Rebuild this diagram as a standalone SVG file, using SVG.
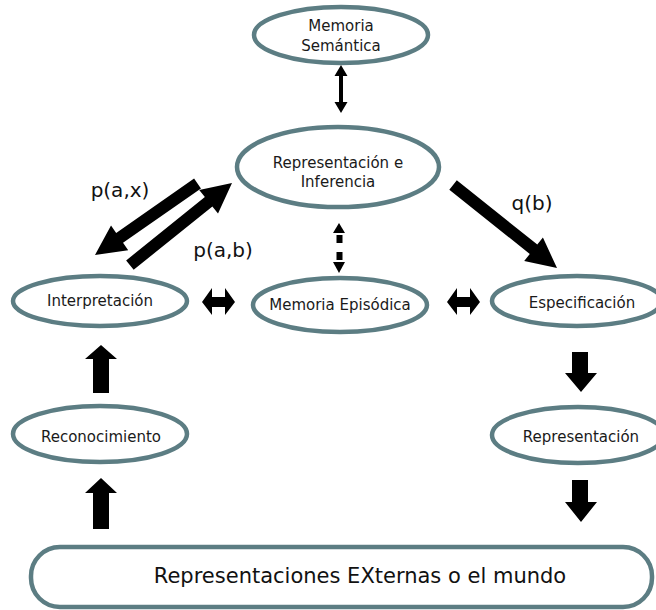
<svg xmlns="http://www.w3.org/2000/svg" width="656" height="610" viewBox="0 0 656 610">
  <defs>
    <filter id="soft" x="-5%" y="-10%" width="110%" height="120%">
      <feGaussianBlur stdDeviation="0.6"/>
    </filter>
    <style>
      .shape { fill: #ffffff; stroke: #5c7d83; stroke-width: 4.5; filter: url(#soft); }
      .label { font-family: "DejaVu Sans", Verdana, sans-serif; font-size: 15px; fill: #1a1a1a; text-anchor: middle; }
      .edge-label { font-family: "DejaVu Sans", Verdana, sans-serif; font-size: 20px; fill: #111111; text-anchor: middle; }
      .big { font-family: "DejaVu Sans", Verdana, sans-serif; font-size: 21px; fill: #111111; text-anchor: middle; }
      .arrow { fill: #000000; stroke: none; }
    </style>
  </defs>
  <rect width="656" height="610" fill="#ffffff"/>

  <g id="memoria-semantica">
    <ellipse class="shape" cx="341" cy="35" rx="87" ry="28"/>
    <text class="label" x="341" y="31">Memoria</text>
    <text class="label" x="341" y="51">Semántica</text>
  </g>

  <g id="representacion-inferencia">
    <ellipse class="shape" cx="338" cy="167" rx="101" ry="40"/>
    <text class="label" x="338" y="168">Representación e</text>
    <text class="label" x="338" y="187">Inferencia</text>
  </g>

  <g id="interpretacion">
    <ellipse class="shape" cx="100" cy="301" rx="87" ry="25"/>
    <text class="label" x="100" y="306">Interpretación</text>
  </g>

  <g id="memoria-episodica">
    <ellipse class="shape" cx="340" cy="305" rx="87" ry="27"/>
    <text class="label" x="340" y="310">Memoria Episódica</text>
  </g>

  <g id="especificacion">
    <ellipse class="shape" cx="577" cy="301" rx="85" ry="25"/>
    <text class="label" x="582" y="308">Especificación</text>
  </g>

  <g id="reconocimiento">
    <ellipse class="shape" cx="100" cy="434" rx="87" ry="28"/>
    <text class="label" x="101" y="442">Reconocimiento</text>
  </g>

  <g id="representacion">
    <ellipse class="shape" cx="578" cy="435" rx="86" ry="28"/>
    <text class="label" x="581" y="442">Representación</text>
  </g>

  <g id="mundo">
    <rect class="shape" x="31" y="547" width="621" height="60" rx="29" ry="29"/>
    <text class="big" x="360" y="583">Representaciones EXternas o el mundo</text>
  </g>

  <g id="connectors">
    <!-- Memoria Semántica <-> Representación e Inferencia -->
    <polygon class="arrow" points="341,65 347.5,76 343,76 343,102 347.5,102 341,113 334.5,102 339,102 339,76 334.5,76"/>

    <!-- Representación e Inferencia <-> Memoria Episódica (dashed) -->
    <polygon class="arrow" points="339,223 345,233 333,233"/>
    <rect class="arrow" x="336.5" y="235" width="6" height="8"/>
    <rect class="arrow" x="336.5" y="252" width="6" height="8"/>
    <polygon class="arrow" points="333,262 345,262 339,273"/>

    <!-- p(a,x): Representación e Inferencia -> Interpretación -->
    <g transform="translate(95,255) rotate(-34.9)">
      <polygon class="arrow" points="0,0 30,-15 30,-6 125,-6 125,6 30,6 30,15"/>
    </g>
    <!-- p(a,b): Interpretación -> Representación e Inferencia -->
    <g transform="translate(232,183) rotate(141.2)">
      <polygon class="arrow" points="0,0 30,-15 30,-6 131,-6 131,6 30,6 30,15"/>
    </g>
    <!-- q(b): Representación e Inferencia -> Especificación -->
    <g transform="translate(557,268) rotate(-141.4)">
      <polygon class="arrow" points="0,0 30,-15 30,-6 133,-6 133,6 30,6 30,15"/>
    </g>

    <!-- Interpretación <-> Memoria Episódica -->
    <polygon class="arrow" points="202,302 212,288 212,297 225,297 225,288 235,302 225,315 225,307 212,307 212,315"/>
    <!-- Memoria Episódica <-> Especificación -->
    <polygon class="arrow" points="447,302 457,288 457,297 470,297 470,288 480,302 470,315 470,307 457,307 457,315"/>

    <!-- Reconocimiento -> Interpretación -->
    <polygon class="arrow" points="101,345 117,359 109,359 109,393 93,393 93,359 85,359"/>
    <!-- Mundo -> Reconocimiento -->
    <polygon class="arrow" points="101,478 117,493 109,493 109,529 93,529 93,493 85,493"/>

    <!-- Especificación -> Representación -->
    <polygon class="arrow" points="572,352 588,352 588,373 597,373 581,392 565,373 572,373"/>
    <!-- Representación -> Mundo -->
    <polygon class="arrow" points="572,480 588,480 588,502 597,502 581,522 565,502 572,502"/>

    <text class="edge-label" x="120" y="197">p(a,x)</text>
    <text class="edge-label" x="223" y="257">p(a,b)</text>
    <text class="edge-label" x="532" y="210">q(b)</text>
  </g>
</svg>
